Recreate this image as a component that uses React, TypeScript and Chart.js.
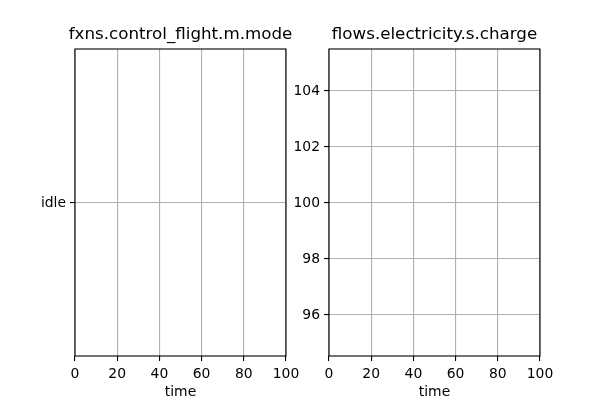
import React, { useEffect, useRef } from "react";
import { Chart, registerables } from "chart.js";

Chart.register(...registerables);

// Data (both panels contain no plotted samples in the reference)
const time: number[] = [];
const modeValues: number[] = [];
const chargeValues: number[] = [];

const modeCategories = ["idle"];
const xTicks = [0, 20, 40, 60, 80, 100];
const chargeTicks = [96, 98, 100, 102, 104];

const titles = ["fxns.control_flight.m.mode", "flows.electricity.s.charge"];
const xLabel = "time";

const FONT = '"DejaVu Sans", sans-serif';
const TICK_SIZE = 13.9;
const TITLE_SIZE = 16.7;

function framePlugin(title: string) {
  return {
    id: "mplFrame",
    afterDraw(chart: any) {
      const { ctx, chartArea } = chart;
      const { left, right, top, bottom } = chartArea;
      ctx.save();
      ctx.strokeStyle = "#000";
      ctx.lineWidth = 1.1;
      ctx.strokeRect(left, top, right - left, bottom - top);
      ctx.fillStyle = "#000";
      ctx.textAlign = "center";
      ctx.textBaseline = "alphabetic";
      ctx.font = `${TITLE_SIZE}px ${FONT}`;
      ctx.fillText(title, (left + right) / 2, top - 10);
      ctx.font = `${TICK_SIZE}px ${FONT}`;
      ctx.textBaseline = "middle";
      ctx.fillText(xLabel, (left + right) / 2, 391);
      ctx.restore();
    },
  };
}

function makeConfig(panel: 0 | 1): any {
  const isMode = panel === 0;
  const yWidth = isMode ? 75 : 329;
  const padRight = isMode ? 314 : 60;
  const grid = {
    color: "#b0b0b0",
    lineWidth: 1.1,
    tickColor: "#000",
    tickLength: 5,
    tickWidth: 1.1,
    drawTicks: true,
  };
  const tickFont = { family: FONT, size: TICK_SIZE };
  const ys = isMode ? modeValues : chargeValues;
  return {
    type: "line",
    data: {
      datasets: [
        {
          label: titles[panel],
          data: time.map((t, i) => ({ x: t, y: ys[i] })),
          borderColor: "#1f77b4",
          borderWidth: 1.5,
          pointRadius: 0,
          fill: false,
        },
      ],
    },
    options: {
      responsive: false,
      animation: false,
      layout: { padding: { top: 48, right: padRight, left: 0, bottom: 0 } },
      plugins: { legend: { display: false }, tooltip: { enabled: false }, title: { display: false } },
      scales: {
        x: {
          type: "linear",
          min: 0,
          max: 100,
          afterBuildTicks: (s: any) => {
            s.ticks = xTicks.map((v) => ({ value: v }));
          },
          afterFit: (s: any) => {
            s.height = 45;
          },
          grid,
          border: { display: false },
          ticks: {
            color: "#000",
            font: tickFont,
            padding: 5,
            autoSkip: false,
            maxRotation: 0,
            callback: (v: any) => String(v),
          },
        },
        y: {
          type: "linear",
          min: isMode ? -1 : 94.5,
          max: isMode ? 1 : 105.5,
          afterBuildTicks: (s: any) => {
            s.ticks = isMode
              ? modeCategories.map((_, i) => ({ value: i }))
              : chargeTicks.map((v) => ({ value: v }));
          },
          afterFit: (s: any) => {
            s.width = yWidth;
          },
          grid,
          border: { display: false },
          ticks: {
            color: "#000",
            font: tickFont,
            padding: 4,
            labelOffset: 1,
            autoSkip: false,
            callback: (v: any) => (isMode ? modeCategories[v] ?? "" : String(v)),
          },
        },
      },
    },
    plugins: [framePlugin(titles[panel])],
  };
}

export default function App() {
  const ref0 = useRef<HTMLCanvasElement>(null);
  const ref1 = useRef<HTMLCanvasElement>(null);
  useEffect(() => {
    const c0 = new Chart(ref0.current as HTMLCanvasElement, makeConfig(0));
    const c1 = new Chart(ref1.current as HTMLCanvasElement, makeConfig(1));
    return () => {
      c0.destroy();
      c1.destroy();
    };
  }, []);
  const style: React.CSSProperties = { position: "absolute", left: 0, top: 0, width: 600, height: 400 };
  return (
    <div style={{ position: "fixed", left: 0, top: 1, width: 600, height: 400, background: "#fff" }}>
      <canvas ref={ref0} width={600} height={400} style={style} />
      <canvas ref={ref1} width={600} height={400} style={style} />
    </div>
  );
}
